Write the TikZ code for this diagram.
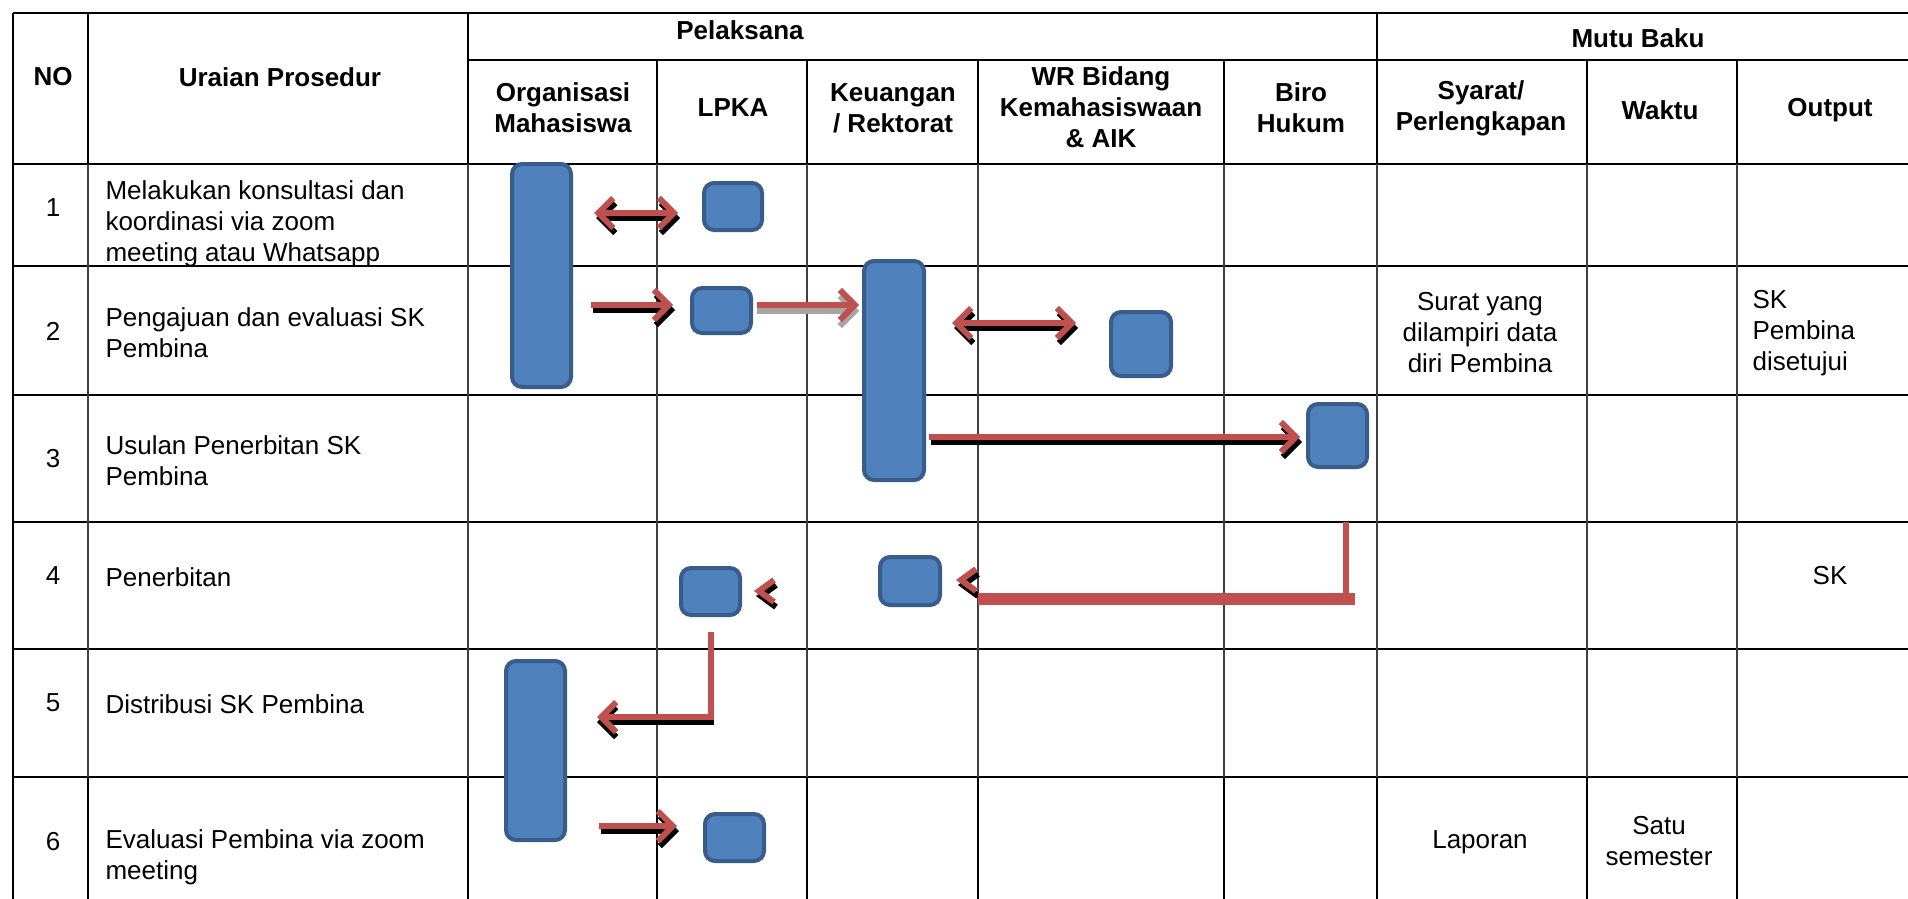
\documentclass[tikz,border=0pt]{standalone}
\usepackage{fontspec}
\setmainfont{Liberation Sans}
\usetikzlibrary{arrows.meta}
\definecolor{flowred}{HTML}{C0504D}
\definecolor{boxfill}{HTML}{4F81BD}
\definecolor{boxline}{HTML}{385D8A}
\newcommand\txtsize{\fontsize{26}{31}\selectfont}

\begin{document}
\begin{tikzpicture}[x=1pt,y=-1pt,
  rule/.style={line width=2.6pt, black},
  thinrule/.style={line width=1.8pt, black!75},
  act/.style={draw=boxline, fill=boxfill, line width=4pt, rounded corners=10pt, inner sep=0pt},
  hdr/.style={font=\txtsize\bfseries, align=center},
  cell/.style={font=\txtsize, align=center},
  desc/.style={font=\txtsize, align=left, anchor=west},
  flow/.style={draw=flowred, line width=6pt},
  flowshade/.style={draw=black, line width=6pt},
  greyshade/.style={draw=black!35, line width=6pt},
  arr1/.style={-{Straight Barb[length=15pt,width=30pt]}},
  arr2/.style={{Straight Barb[length=15pt,width=30pt]}-{Straight Barb[length=15pt,width=30pt]}},
  bar/.style={draw=flowred, line cap=butt},
]
\useasboundingbox (0,0) rectangle (1908,898);
\fill[white] (0,0) rectangle (1908,898);

% ---- table rules ----
\draw[rule] (13,13) -- (1910,13);
\draw[rule] (468,60) -- (1910,60);
\draw[rule] (13,164) -- (1910,164);
\draw[rule, line width=2pt] (13,266) -- (1910,266);
\foreach \y in {395,522,649,777} \draw[rule] (13,\y) -- (1910,\y);
% header verticals
\foreach \x in {13,88,468,1377} \draw[rule] (\x,13) -- (\x,164);
\foreach \x in {657,807,978,1224,1587,1737} \draw[rule] (\x,60) -- (\x,164);
% body verticals
\draw[rule] (13,164) -- (13,900);
\foreach \x in {88,468,657,807,978,1224,1377,1587,1737} {
  \draw[thinrule] (\x,164) -- (\x,777);
  \draw[rule] (\x,777) -- (\x,900);
}

% ---- header texts ----
\node[hdr] (hNo) at (53,77) {NO};
\node[hdr] (hUr) at (280,77) {Uraian Prosedur};
\node[hdr] (hPel) at (740,30) {Pelaksana};
\node[hdr] (hMutu) at (1638,38) {Mutu Baku};
\node[hdr] (hOrg) at (563,108) {Organisasi\\Mahasiswa};
\node[hdr] (hLpka) at (733,108) {LPKA};
\node[hdr] (hKeu) at (893,108) {Keuangan\\/ Rektorat};
\node[hdr] (hWr) at (1101,107) {WR Bidang\\Kemahasiswaan\\\& AIK};
\node[hdr] (hBiro) at (1301,108) {Biro\\Hukum};
\node[hdr] (hSyarat) at (1481,108) {Syarat/\\Perlengkapan};
\node[hdr] (hWaktu) at (1660,110) {Waktu};
\node[hdr] (hOut) at (1830,110) {Output};

% ---- row numbers and steps ----
\node[cell] (n1) at (53,208) {1};
\node[cell] (n2) at (53,331) {2};
\node[cell] (n3) at (53,459) {3};
\node[cell] (n4) at (53,576) {4};
\node[cell] (n5) at (53,703) {5};
\node[cell] (n6) at (53,842) {6};
\node[desc] (d1) at (102,224) {Melakukan konsultasi dan\\koordinasi via zoom\\meeting atau Whatsapp};
\node[desc] (d2) at (102,333) {Pengajuan dan evaluasi SK\\Pembina};
\node[desc] (d3) at (102,461) {Usulan Penerbitan SK\\Pembina};
\node[desc] (d4) at (102,577) {Penerbitan};
\node[desc] (d5) at (102,704) {Distribusi SK Pembina};
\node[desc] (d6) at (102,857) {Evaluasi Pembina via zoom\\meeting};

% ---- quality standard columns ----
\node[cell] (s2) at (1480,333) {Surat yang\\dilampiri data\\diri Pembina};
\node[desc] (o2) at (1749,333) {SK\\Pembina\\disetujui};
\node[cell] (o4) at (1830,576) {SK};
\node[cell] (s6) at (1480,842) {Laporan};
\node[cell] (w6) at (1659,841) {Satu\\semester};

% ---- activity boxes ----
\node[act, minimum width=59pt, minimum height=223pt] (org1) at (541.5,275.5) {};
\node[act, minimum width=58pt, minimum height=47pt] (lp1) at (733,206.5) {};
\node[act, minimum width=59pt, minimum height=45pt] (lp2) at (721.5,310.5) {};
\node[act, minimum width=60pt, minimum height=219pt] (keu1) at (894,370.5) {};
\node[act, minimum width=60pt, minimum height=64pt] (wr1) at (1141,344) {};
\node[act, minimum width=59pt, minimum height=63pt] (biro1) at (1337.5,435.5) {};
\node[act, minimum width=59pt, minimum height=47pt] (lp4) at (710.5,591.5) {};
\node[act, minimum width=60pt, minimum height=48pt] (keu4) at (910,581) {};
\node[act, minimum width=59pt, minimum height=179pt] (org2) at (535.5,750.5) {};
\node[act, minimum width=59pt, minimum height=47pt] (lp6) at (734.5,837.5) {};

% ---- connector ends ----
\coordinate (a1s) at (594,213);
\coordinate (a1e) at (678,213);
\coordinate (a2s) at (591,305);
\coordinate (a2e) at (673,305);
\coordinate (a3s) at (757,305);
\coordinate (a3e) at (859,305);
\coordinate (a4s) at (952,323);
\coordinate (a4e) at (1076,323);
\coordinate (a5s) at (929,437);
\coordinate (a5e) at (1300,437);
\coordinate (b4top) at (1346,522);
\coordinate (b4low) at (1346,599);
\coordinate (b4r) at (1355,599);
\coordinate (b4l) at (978,599);
\coordinate (c1a) at (976,569);
\coordinate (c1t) at (961,580);
\coordinate (c1b) at (976,591);
\coordinate (c2a) at (774,580);
\coordinate (c2t) at (759,591);
\coordinate (c2b) at (774,602);
\coordinate (e5s) at (711,632);
\coordinate (e5e) at (597,717);
\coordinate (a6s) at (599,826);
\coordinate (a6e) at (677,826);

% ---- connector shadows (offset copies) ----
\begin{scope}[transform canvas={xshift=2pt,yshift=-5pt}]
  \draw[flowshade, arr2] (a1s) -- (a1e);
  \draw[flowshade, arr1] (a2s) -- (a2e);
  \draw[flowshade, arr2] (a4s) -- (a4e);
  \draw[flowshade, arr1] (a5s) -- (a5e);
  \draw[flowshade] (c1a) -- (c1t) -- (c1b);
  \draw[flowshade] (c2a) -- (c2t) -- (c2b);
  \draw[flowshade, arr1] (a6s) -- (a6e);
\end{scope}
\begin{scope}[transform canvas={yshift=-5pt}]
  \draw[flowshade, arr1] (e5s) |- (e5e);
\end{scope}
\begin{scope}[transform canvas={yshift=-6pt}]
  \draw[greyshade, arr1] (a3s) -- (a3e);
\end{scope}

% ---- connectors ----
\draw[flow, arr2] (a1s) -- (a1e);
\draw[flow, arr1] (a2s) -- (a2e);
\draw[flow, arr1] (a3s) -- (a3e);
\draw[flow, arr2] (a4s) -- (a4e);
\draw[flow, arr1] (a5s) -- (a5e);
\draw[bar, line width=6pt] (b4top) -- (b4low);
\draw[bar, line width=12pt] (b4r) -- (b4l);
\draw[flow] (c1a) -- (c1t) -- (c1b);
\draw[flow] (c2a) -- (c2t) -- (c2b);
\draw[flow, arr1] (e5s) |- (e5e);
\draw[flow, arr1] (a6s) -- (a6e);
\end{tikzpicture}
\end{document}
